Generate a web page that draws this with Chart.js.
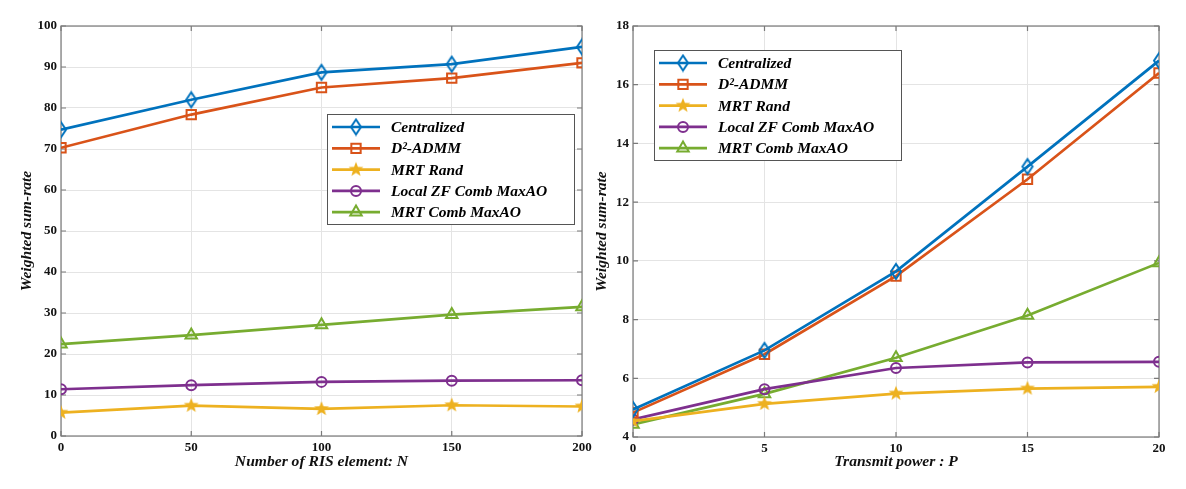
<!DOCTYPE html>
<html>
<head>
<meta charset="utf-8">
<script src="https://cdn.jsdelivr.net/npm/chart.js@4.4.1/dist/chart.umd.min.js"></script>
<style>
  html, body { margin: 0; padding: 0; background: #fff; }
  #wrap { position: relative; width: 1186px; height: 489px; }
  .pane { position: absolute; top: 0; height: 489px; }
  #leftPane { left: 0; width: 600px; }
  #rightPane { left: 590px; width: 596px; }
</style>
</head>
<body>
<div id="wrap">
  <div class="pane" id="leftPane"><canvas id="risChart"></canvas></div>
  <div class="pane" id="rightPane"><canvas id="powerChart"></canvas></div>
</div>
<script>
// series names (legend order)
const seriesNames = ['Centralized', 'D\u00b2-ADMM', 'MRT Rand', 'Local ZF Comb MaxAO', 'MRT Comb MaxAO'];

// left panel: number of RIS elements
const risElements = [0, 50, 100, 150, 200];
const risCentralized = [74.7, 82.0, 88.7, 90.7, 94.9];
const risAdmm = [70.3, 78.4, 85.0, 87.3, 91.0];
const risMrtRand = [5.7, 7.4, 6.6, 7.5, 7.2];
const risLocalZf = [11.4, 12.4, 13.2, 13.5, 13.6];
const risMrtComb = [22.4, 24.6, 27.1, 29.6, 31.5];
const risYTicks = [0, 10, 20, 30, 40, 50, 60, 70, 80, 90, 100];

// right panel: transmit power
const powerLevels = [0, 5, 10, 15, 20];
const powCentralized = [4.94, 6.95, 9.64, 13.21, 16.82];
const powAdmm = [4.83, 6.82, 9.48, 12.78, 16.4];
const powMrtRand = [4.54, 5.13, 5.48, 5.65, 5.71];
const powLocalZf = [4.6, 5.63, 6.35, 6.54, 6.56];
const powMrtComb = [4.43, 5.47, 6.7, 8.14, 9.93];
const powYTicks = [4, 6, 8, 10, 12, 14, 16, 18];

const COLORS = ['#0072BD', '#D95319', '#EDB120', '#7E2F8E', '#77AC30'];
const FONT = "'Liberation Serif', 'Times New Roman', serif";

// filled five-point star (MATLAB 'p' marker)
function makeStar(color, r) {
  const c = document.createElement('canvas');
  const s = Math.ceil(r * 2 + 2);
  c.width = s; c.height = s;
  const g = c.getContext('2d');
  g.beginPath();
  for (let i = 0; i < 10; i++) {
    const a = -Math.PI / 2 + i * Math.PI / 5;
    const rr = i % 2 ? r * 0.42 : r;
    g.lineTo(s / 2 + rr * Math.cos(a), s / 2 + rr * Math.sin(a));
  }
  g.closePath();
  g.fillStyle = color;
  g.fill();
  return c;
}

// tall open diamond (MATLAB 'd' marker)
function makeDiamond(color, hw, hh) {
  const c = document.createElement('canvas');
  c.width = Math.ceil(hw * 2 + 4); c.height = Math.ceil(hh * 2 + 4);
  const g = c.getContext('2d');
  const cx = c.width / 2, cy = c.height / 2;
  g.beginPath();
  g.moveTo(cx, cy - hh); g.lineTo(cx + hw, cy); g.lineTo(cx, cy + hh); g.lineTo(cx - hw, cy);
  g.closePath();
  g.strokeStyle = color;
  g.lineWidth = 2;
  g.stroke();
  return c;
}

const markers = [
  { style: makeDiamond(COLORS[0], 5, 7.5), radius: 7 },
  { style: 'rect', radius: 6.6 },
  { style: makeStar(COLORS[2], 7.8), radius: 7 },
  { style: 'circle', radius: 5 },
  { style: 'triangle', radius: 6.6 }
];

function buildDatasets(series) {
  return series.map((values, i) => ({
    label: seriesNames[i],
    data: values,
    borderColor: COLORS[i],
    backgroundColor: 'rgba(0,0,0,0)',
    borderWidth: 2.7,
    pointStyle: markers[i].style,
    pointRadius: markers[i].radius,
    pointBorderWidth: 2,
    pointBorderColor: COLORS[i],
    pointBackgroundColor: 'rgba(0,0,0,0)',
    tension: 0
  }));
}

function drawMarker(ctx, ds, x, y) {
  const st = ds.pointStyle, r = ds.pointRadius;
  if (typeof st !== 'string') {
    ctx.drawImage(st, x - st.width / 2, y - st.height / 2);
    return;
  }
  ctx.save();
  ctx.strokeStyle = ds.pointBorderColor;
  ctx.lineWidth = ds.pointBorderWidth;
  ctx.beginPath();
  if (st === 'rect') {
    const h = r * Math.SQRT1_2;
    ctx.rect(x - h, y - h, 2 * h, 2 * h);
  } else if (st === 'circle') {
    ctx.arc(x, y, r, 0, Math.PI * 2);
  } else if (st === 'triangle') {
    ctx.moveTo(x, y - r); ctx.lineTo(x + r * 0.866, y + r * 0.5); ctx.lineTo(x - r * 0.866, y + r * 0.5); ctx.closePath();
  }
  ctx.stroke();
  ctx.restore();
}

// legend drawn inside the plot with a box, like the figure
const insideLegend = {
  id: 'insideLegend',
  afterDatasetsDraw(chart, args, opts) {
    const { ctx } = chart;
    const { x, y, w, h, row } = opts;
    ctx.save();
    ctx.fillStyle = '#fff';
    ctx.fillRect(x, y, w, h);
    ctx.strokeStyle = '#555';
    ctx.lineWidth = 1;
    ctx.strokeRect(x + 0.5, y + 0.5, w, h);
    chart.data.datasets.forEach((ds, i) => {
      const cy = y + 13 + i * row;
      ctx.strokeStyle = ds.borderColor;
      ctx.lineWidth = ds.borderWidth;
      ctx.beginPath();
      ctx.moveTo(x + 5, cy); ctx.lineTo(x + 53, cy);
      ctx.stroke();
      drawMarker(ctx, ds, x + 29, cy);
      ctx.fillStyle = '#000';
      ctx.font = `italic bold 15.5px ${FONT}`;
      ctx.textBaseline = 'middle';
      ctx.textAlign = 'left';
      ctx.fillText(ds.label, x + 64, cy + 1);
    });
    ctx.restore();
  }
};

// box around the plot with inward tick marks
const plotBox = {
  id: 'plotBox',
  beforeDatasetsDraw(chart) {
    const { ctx, chartArea: a, scales } = chart;
    ctx.save();
    ctx.strokeStyle = '#7a7a7a';
    ctx.lineWidth = 1.2;
    ctx.strokeRect(a.left, a.top, a.right - a.left, a.bottom - a.top);
    ctx.beginPath();
    scales.y.ticks.forEach(t => {
      const py = scales.y.getPixelForValue(t.value);
      ctx.moveTo(a.left, py); ctx.lineTo(a.left + 5, py);
      ctx.moveTo(a.right, py); ctx.lineTo(a.right - 5, py);
    });
    scales.x.ticks.forEach(t => {
      const px = scales.x.getPixelForValue(t.value);
      ctx.moveTo(px, a.bottom); ctx.lineTo(px, a.bottom - 5);
      ctx.moveTo(px, a.top); ctx.lineTo(px, a.top + 5);
    });
    ctx.stroke();
    ctx.restore();
  }
};

function makeChart(canvas, cfg) {
  return new Chart(canvas, {
    type: 'line',
    data: {
      labels: cfg.xValues,
      datasets: buildDatasets(cfg.series).map(ds => ({
        ...ds,
        data: ds.data.map((v, k) => ({ x: cfg.xValues[k], y: v }))
      }))
    },
    options: {
      responsive: true,
      maintainAspectRatio: false,
      animation: false,
      layout: { padding: { top: 26, right: cfg.padRight, left: 0, bottom: 0 } },
      plugins: {
        legend: { display: false },
        tooltip: { enabled: false },
        insideLegend: cfg.legend
      },
      scales: {
        x: {
          type: 'linear',
          min: cfg.xValues[0],
          max: cfg.xValues[cfg.xValues.length - 1],
          afterBuildTicks: s => { s.ticks = cfg.xValues.map(v => ({ value: v })); },
          afterFit: s => { s.height = cfg.xAxisHeight; },
          grid: { color: '#e4e4e4', lineWidth: 1, drawTicks: false },
          border: { display: false },
          ticks: { color: '#111', padding: 4, font: { family: FONT, size: 13, weight: 'bold' }, maxRotation: 0 },
          title: {
            display: true,
            text: cfg.xTitle,
            color: '#111',
            padding: { top: 0, bottom: 18 },
            font: { family: FONT, size: 15.6, weight: 'bold', style: 'italic' }
          }
        },
        y: {
          min: cfg.yTicks[0],
          max: cfg.yTicks[cfg.yTicks.length - 1],
          afterBuildTicks: s => { s.ticks = cfg.yTicks.map(v => ({ value: v })); },
          afterFit: s => { s.width = cfg.yAxisWidth; },
          grid: { color: '#e4e4e4', lineWidth: 1, drawTicks: false },
          border: { display: false },
          ticks: { color: '#111', padding: 4, font: { family: FONT, size: 13, weight: 'bold' } },
          title: {
            display: true,
            text: 'Weighted sum-rate',
            color: '#111',
            padding: { top: cfg.yTitlePad, bottom: 0 },
            font: { family: FONT, size: 15.6, weight: 'bold', style: 'italic' }
          }
        }
      }
    },
    plugins: [plotBox, insideLegend]
  });
}

makeChart(document.getElementById('risChart'), {
  xValues: risElements,
  series: [risCentralized, risAdmm, risMrtRand, risLocalZf, risMrtComb],
  yTicks: risYTicks,
  xTitle: 'Number of RIS element: N',
  padRight: 18,
  xAxisHeight: 53,
  yAxisWidth: 61,
  yTitlePad: 18,
  legend: { x: 327, y: 114, w: 247, h: 110, row: 21.3 }
});

makeChart(document.getElementById('powerChart'), {
  xValues: powerLevels,
  series: [powCentralized, powAdmm, powMrtRand, powLocalZf, powMrtComb],
  yTicks: powYTicks,
  xTitle: 'Transmit power : P',
  padRight: 27,
  xAxisHeight: 52,
  yAxisWidth: 43,
  yTitlePad: 3,
  legend: { x: 64, y: 50, w: 247, h: 110, row: 21.3 }
});
</script>
</body>
</html>
